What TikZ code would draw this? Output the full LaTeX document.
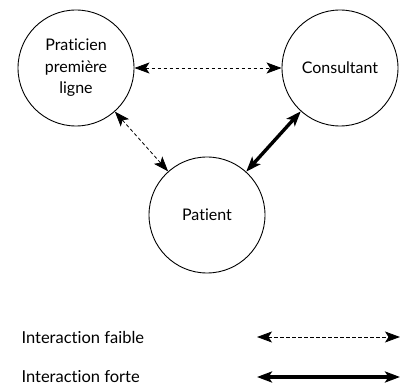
\documentclass[tikz,border=0pt]{standalone}
\usepackage{fontspec}
\setmainfont[Ligatures={NoCommon}]{Lato}
\usetikzlibrary{arrows.meta}

\tikzset{
  acteur/.style={draw, circle, line width=0.9pt, minimum size=116pt, inner sep=0pt,
                 align=center, font=\fontsize{16}{21.5}\selectfont},
  legende/.style={anchor=west, font=\fontsize{16.5}{19}\selectfont},
  bout/.tip={Stealth[length=15pt,width=11pt,inset=3.5pt]},
  faible/.style={bout-bout, line width=0.8pt, dash pattern=on 3.5pt off 2.5pt},
  forte/.style={bout-bout, line width=3.4pt}
}

\begin{document}
\begin{tikzpicture}[x=1pt,y=1pt]
    \useasboundingbox (0,0) rectangle (402,386);

    \node[acteur] (praticien) at (76,318) {Praticien\\première\\ligne};
    \node[acteur] (consultant) at (340,318) {Consultant};
    \node[acteur] (patient) at (207,171) {Patient};

    \draw[faible] (praticien) -- (consultant);
    \draw[faible] (praticien) -- (patient);
    \draw[forte] (consultant) -- (patient);

    % legende
    \node[legende] (faible-txt) at (18,49) {Interaction faible};
    \coordinate (faible-a) at (257,49);
    \coordinate (faible-b) at (400,49);
    \draw[faible] (faible-a) -- (faible-b);

    \node[legende] (forte-txt) at (18,9) {Interaction forte};
    \coordinate (forte-a) at (257,9);
    \coordinate (forte-b) at (400,9);
    \draw[forte] (forte-a) -- (forte-b);
\end{tikzpicture}
\end{document}
